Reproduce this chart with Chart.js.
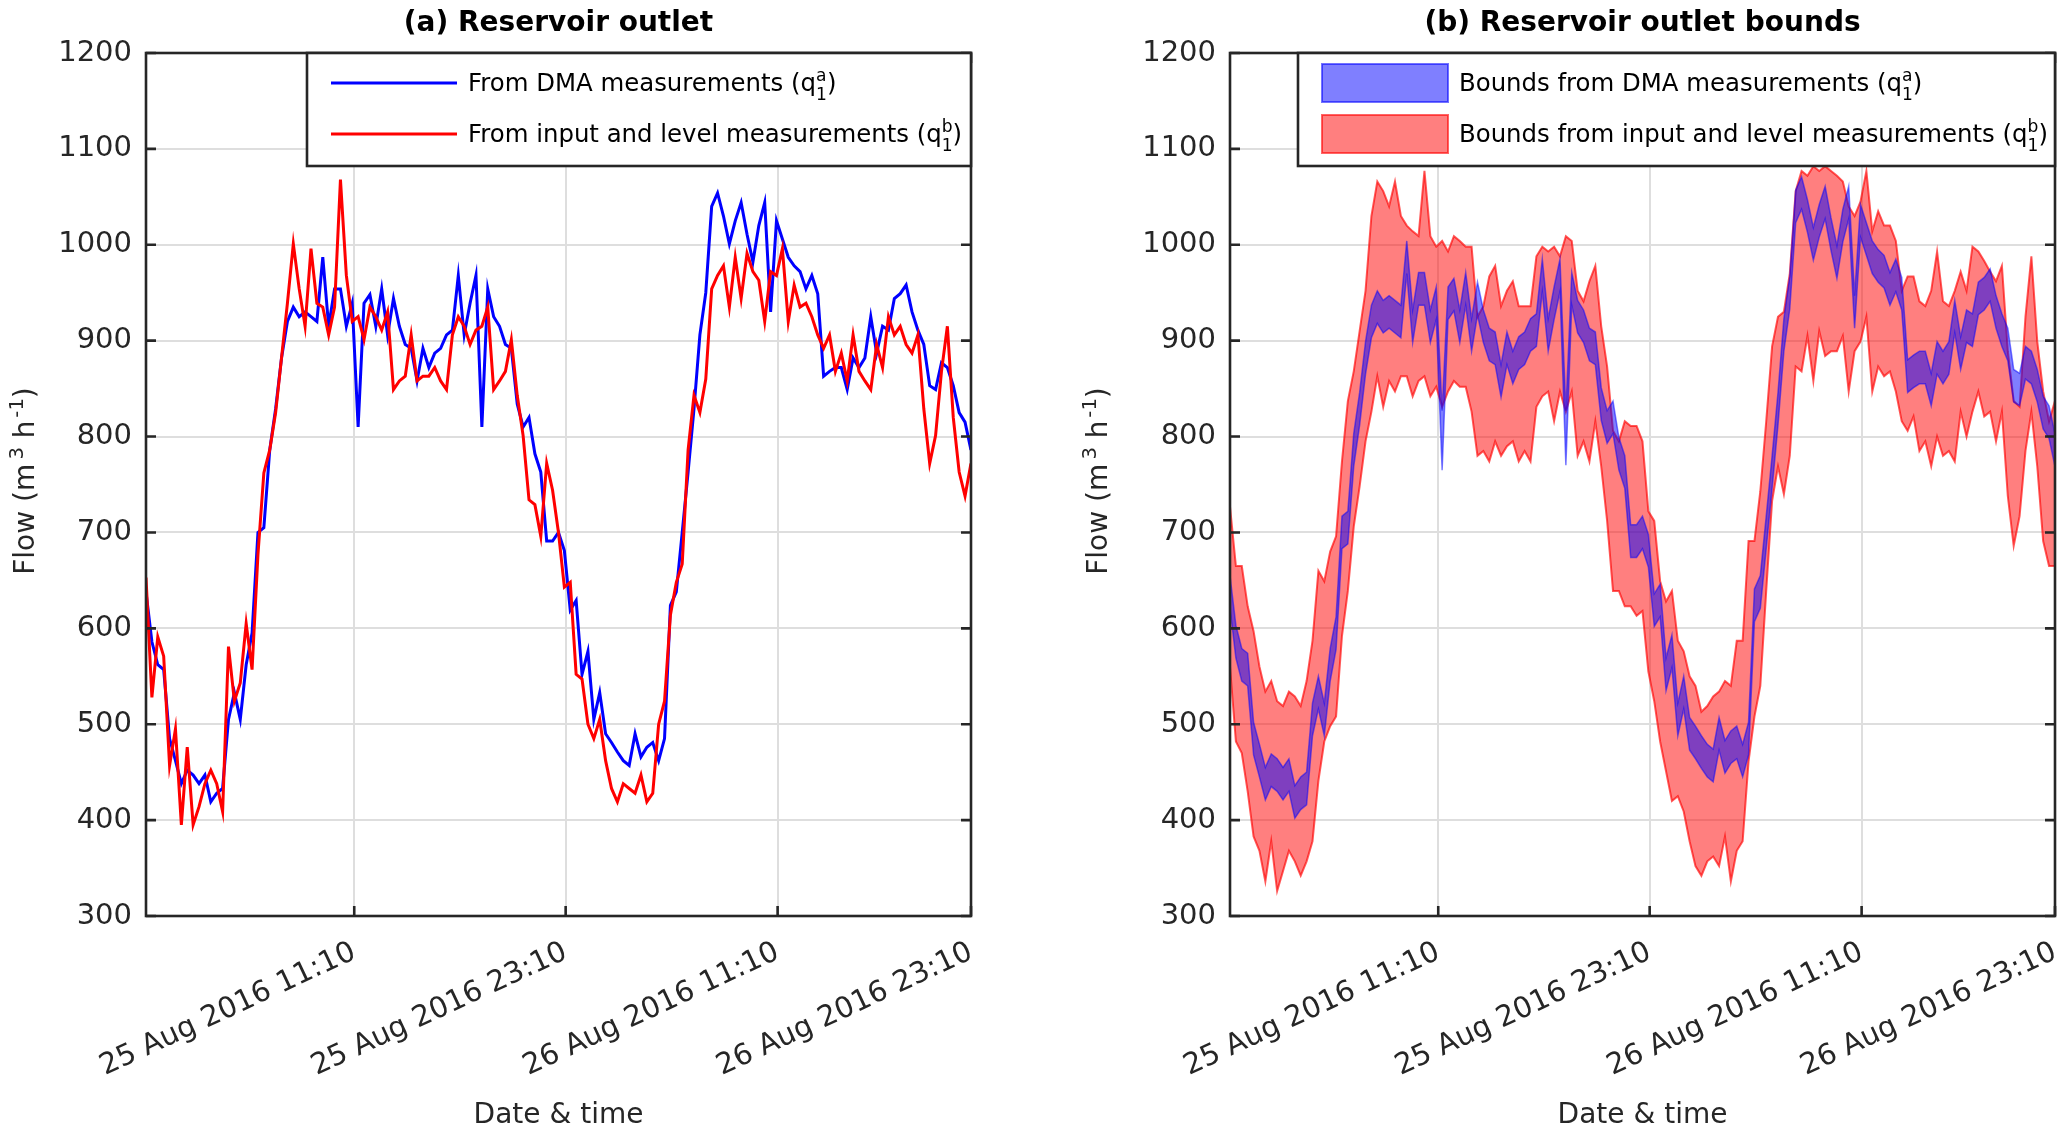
<!DOCTYPE html>
<html>
<head>
<meta charset="utf-8">
<script src="https://cdn.jsdelivr.net/npm/chart.js@4.4.1/dist/chart.umd.min.js"></script>
<style>
  html, body { margin: 0; padding: 0; background: #fff; }
  #wrap { display: flex; width: 2066px; height: 1135px; }
  .panel { position: relative; width: 1033px; height: 1135px; }
</style>
</head>
<body>
<div id="wrap">
  <div class="panel"><canvas id="chartA"></canvas></div>
  <div class="panel"><canvas id="chartB"></canvas></div>
</div>
<script>
// samples every 20 min, hours counted from the left edge of the axis
const stepHours = 1 / 3;
const tickHours = [11.78, 23.74, 35.73, 46.67];
const tickLabels = ["25 Aug 2016 11:10", "25 Aug 2016 23:10", "26 Aug 2016 11:10", "26 Aug 2016 23:10"];

// (a) flows, m3/h
const flowDMA = [
  638, 586, 562, 557, 485, 462, 438, 452, 447, 438,
  447, 419, 428, 433, 505, 533, 505, 562, 595, 700,
  705, 786, 829, 882, 920, 935, 925, 930, 925, 920,
  987, 915, 954, 954, 915, 939, 810, 939, 948, 915,
  954, 906, 944, 915, 896, 892, 858, 892, 872, 887,
  892, 906, 911, 968, 906, 939, 968, 810, 954, 925,
  915, 896, 892, 834, 810, 820, 782, 763, 691, 691,
  700, 681, 619, 629, 552, 576, 505, 533, 490, 481,
  471, 462, 457, 490, 466, 476, 481, 462, 485, 624,
  638, 700, 763, 829, 906, 950, 1040, 1054, 1030, 1001,
  1025, 1044, 1011, 982, 1020, 1044, 930, 1025, 1006, 987,
  978, 972, 954, 968, 949, 863, 868, 872, 872, 849,
  882, 872, 882, 925, 887, 915, 911, 944, 949, 958,
  930, 911, 896, 853, 849, 877, 872, 853, 825, 815,
  786
];
const flowLevel = [
  653, 528, 591, 571, 457, 495, 395, 476, 395, 414,
  438, 452, 438, 409, 581, 524, 543, 605, 557, 677,
  762, 786, 825, 882, 939, 1001, 954, 915, 996, 939,
  935, 906, 935, 1068, 968, 920, 925, 901, 935, 925,
  911, 930, 849, 858, 863, 906, 858, 863, 863, 872,
  858, 849, 906, 925, 915, 896, 911, 915, 935, 849,
  858, 868, 901, 843, 801, 734, 729, 696, 772, 744,
  700, 643, 648, 552, 547, 500, 485, 505, 462, 433,
  419, 438, 433, 428, 447, 419, 428, 500, 524, 614,
  648, 667, 786, 843, 825, 860, 954, 968, 978, 935,
  987, 944, 991, 972, 963, 920, 972, 968, 996, 920,
  958, 935, 939, 925, 906, 892, 906, 868, 887, 858,
  906, 868, 858, 849, 896, 872, 925, 906, 915, 896,
  887, 906, 829, 772, 801, 868, 915, 820, 763, 738,
  772
];

// (b) bounds, m3/h
const dmaLower = [
  621, 569, 545, 540, 468, 445, 421, 435, 430, 421,
  430, 402, 411, 416, 488, 516, 488, 545, 578, 683,
  688, 769, 812, 865, 903, 918, 908, 913, 908, 903,
  970, 898, 937, 937, 898, 922, 765, 922, 931, 898,
  937, 889, 927, 898, 879, 875, 841, 875, 855, 870,
  875, 889, 894, 951, 889, 922, 951, 770, 937, 908,
  898, 879, 875, 817, 793, 803, 765, 746, 674, 674,
  683, 664, 602, 612, 535, 559, 488, 516, 473, 464,
  454, 445, 440, 473, 449, 459, 464, 445, 468, 607,
  621, 683, 746, 812, 889, 933, 1023, 1037, 1013, 984,
  1008, 1027, 994, 965, 1003, 1027, 913, 1008, 989, 970,
  961, 955, 937, 951, 932, 846, 851, 855, 855, 832,
  865, 855, 865, 908, 870, 898, 894, 927, 932, 941,
  913, 894, 879, 836, 832, 860, 855, 836, 808, 798,
  769
];
const dmaUpper = [
  655, 603, 579, 574, 502, 479, 455, 469, 464, 455,
  464, 436, 445, 450, 522, 550, 522, 579, 612, 717,
  722, 803, 846, 899, 937, 952, 942, 947, 942, 937,
  1004, 932, 971, 971, 932, 956, 827, 956, 965, 932,
  971, 923, 961, 932, 913, 909, 875, 909, 889, 904,
  909, 923, 928, 985, 923, 956, 985, 827, 971, 942,
  932, 913, 909, 851, 827, 837, 799, 780, 708, 708,
  717, 698, 636, 646, 569, 593, 522, 550, 507, 498,
  488, 479, 474, 507, 483, 493, 498, 479, 502, 641,
  655, 717, 780, 846, 923, 967, 1057, 1071, 1047, 1018,
  1042, 1061, 1028, 999, 1037, 1061, 947, 1042, 1023, 1004,
  995, 989, 971, 985, 966, 880, 885, 889, 889, 866,
  899, 889, 899, 942, 904, 932, 928, 961, 966, 975,
  947, 928, 913, 870, 866, 894, 889, 870, 842, 832,
  803
];
const levelLower = [
  560, 482, 470, 430, 383, 368, 336, 378, 326, 347,
  368, 357, 342, 357, 378, 441, 482, 498, 508, 592,
  639, 706, 748, 795, 826, 863, 831, 858, 847, 863,
  863, 842, 858, 863, 842, 852, 831, 847, 858, 852,
  852, 826, 780, 785, 774, 795, 780, 790, 795, 774,
  785, 774, 831, 842, 847, 816, 847, 826, 847, 780,
  795, 774, 816, 769, 712, 639, 639, 623, 623, 613,
  618, 555, 524, 482, 451, 420, 425, 409, 378, 352,
  342, 357, 362, 352, 383, 336, 368, 378, 461, 508,
  540, 639, 733, 769, 740, 780, 873, 868, 905, 858,
  910, 884, 889, 889, 905, 847, 889, 899, 925, 847,
  873, 863, 868, 847, 816, 806, 821, 785, 795, 769,
  800, 780, 785, 774, 826, 800, 826, 847, 821, 826,
  795, 826, 738, 686, 717, 785, 826, 769, 691, 665,
  665
];
const levelUpper = [
  727, 665, 665, 623, 597, 560, 534, 545, 524, 519,
  534, 529, 519, 545, 587, 660, 649, 680, 696, 774,
  837, 868, 910, 952, 1030, 1066, 1056, 1040, 1066, 1030,
  1020, 1014, 1009, 1077, 1009, 998, 1004, 993, 1009, 1004,
  998, 998, 925, 936, 967, 978, 936, 952, 962, 936,
  936, 936, 988, 998, 993, 998, 988, 1009, 1004, 952,
  941, 962, 978, 915, 873, 806, 795, 816, 811, 811,
  795, 722, 712, 649, 628, 639, 587, 576, 550, 540,
  513, 519, 529, 534, 545, 540, 587, 587, 691, 691,
  743, 816, 894, 925, 930, 970, 1056, 1077, 1072, 1082,
  1077, 1082, 1077, 1072, 1066, 1040, 1030, 1045, 1077, 1014,
  1035, 1020, 1020, 1004, 952, 967, 967, 941, 936, 952,
  993, 941, 936, 952, 972, 952, 998, 993, 983, 972,
  962, 978, 889, 837, 831, 925, 988, 899, 847, 816,
  837
];

const FONT = "'DejaVu Sans', sans-serif";
const INK = "#262626";
Chart.defaults.font.family = FONT;

function toPoints(values) {
  return values.map((v, i) => ({ x: i * stepHours, y: v }));
}

// text with stacked super/subscripts, e.g. q with 1 below and a above
function drawRich(ctx, x, y, parts, size, draw) {
  let cx = x;
  for (const p of parts) {
    if (p.t !== undefined) {
      ctx.font = size + "px " + FONT;
      if (draw) ctx.fillText(p.t, cx, y);
      cx += ctx.measureText(p.t).width;
    } else {
      const s = size * 0.7;
      ctx.font = s + "px " + FONT;
      cx += (p.gap || 0) * size;
      let w = 0;
      if (p.sup) {
        if (draw) ctx.fillText(p.sup, cx, y - size * 0.4);
        w = Math.max(w, ctx.measureText(p.sup).width);
      }
      if (p.sub) {
        if (draw) ctx.fillText(p.sub, cx, y + size * 0.36);
        w = Math.max(w, ctx.measureText(p.sub).width);
      }
      cx += w;
    }
  }
  return cx - x;
}

const yTitleParts = [{ t: "Flow (m" }, { sup: "3", gap: 0.15 }, { t: " h" }, { sup: "-1", gap: 0.1 }, { t: ")" }];

function framePlugin(cfg) {
  return {
    id: "matlabFrame",
    afterDraw(chart) {
      const ctx = chart.ctx;
      const a = chart.chartArea;
      const xs = chart.scales.x;
      const ys = chart.scales.y;
      ctx.save();
      ctx.strokeStyle = INK;
      ctx.lineWidth = 2.6;
      // inward ticks
      ctx.beginPath();
      ys.ticks.forEach((t) => {
        const py = ys.getPixelForValue(t.value);
        ctx.moveTo(a.left, py); ctx.lineTo(a.left + 10, py);
        ctx.moveTo(a.right, py); ctx.lineTo(a.right - 10, py);
      });
      xs.ticks.forEach((t) => {
        const px = xs.getPixelForValue(t.value);
        ctx.moveTo(px, a.bottom); ctx.lineTo(px, a.bottom - 10);
        ctx.moveTo(px, a.top); ctx.lineTo(px, a.top + 10);
      });
      ctx.stroke();
      ctx.strokeRect(a.left, a.top, a.right - a.left, a.bottom - a.top);

      // legend
      const bx = cfg.legendLeft, by = a.top, bw = a.right - bx, bh = 113;
      ctx.fillStyle = "#fff";
      ctx.fillRect(bx, by, bw, bh);
      ctx.strokeRect(bx, by, bw, bh);
      cfg.items.forEach((it, i) => {
        const ry = by + 30 + i * 51;
        const sx = bx + 24;
        if (it.kind === "line") {
          ctx.strokeStyle = it.color;
          ctx.lineWidth = 2.8;
          ctx.beginPath();
          ctx.moveTo(sx, ry); ctx.lineTo(sx + 126, ry);
          ctx.stroke();
        } else {
          ctx.fillStyle = it.fill;
          ctx.fillRect(sx, ry - 19, 126, 38);
          ctx.strokeStyle = it.edge;
          ctx.lineWidth = 2;
          ctx.strokeRect(sx, ry - 19, 126, 38);
        }
        ctx.fillStyle = "#000";
        ctx.textBaseline = "alphabetic";
        ctx.textAlign = "left";
        drawRich(ctx, sx + 137, ry + 8, it.parts, 24.4, true);
      });

      // y axis title
      ctx.fillStyle = INK;
      ctx.translate(cfg.yTitleX, 481);
      ctx.rotate(-Math.PI / 2);
      const w = drawRich(ctx, 0, 0, yTitleParts, 28, false);
      drawRich(ctx, -w / 2, 10, yTitleParts, 28, true);
      ctx.restore();
    }
  };
}

function makeOptions(title, padLeft, padRight, yWidth) {
  return {
    responsive: true,
    maintainAspectRatio: false,
    animation: false,
    layout: { padding: { left: padLeft, right: padRight, top: 0, bottom: 0 } },
    elements: { point: { radius: 0 }, line: { tension: 0 } },
    plugins: {
      legend: { display: false },
      tooltip: { enabled: false },
      title: {
        display: true,
        text: title,
        fullSize: false,
        color: "#000",
        font: { size: 28, weight: "bold" },
        padding: { top: 7, bottom: 12.4 }
      }
    },
    scales: {
      x: {
        type: "linear",
        min: 0,
        max: tickHours[tickHours.length - 1],
        afterBuildTicks: (scale) => { scale.ticks = tickHours.map((v) => ({ value: v })); },
        afterFit: (scale) => {
          scale.height = 219;
          // the rotated labels may hang outside the plot; keep the plot box fixed
          scale.paddingLeft = 0;
          scale.paddingRight = 0;
        },
        ticks: {
          autoSkip: false,
          maxRotation: 25,
          minRotation: 25,
          padding: 19,
          color: INK,
          font: { size: 29 },
          callback: (v, i) => tickLabels[i]
        },
        grid: { color: "rgb(222,222,222)", lineWidth: 2, drawTicks: false },
        border: { display: false },
        title: {
          display: true,
          text: "Date & time",
          color: INK,
          font: { size: 28 },
          padding: { top: 0, bottom: 2 }
        }
      },
      y: {
        min: 300,
        max: 1200,
        afterFit: (scale) => { scale.width = yWidth; },
        ticks: { stepSize: 100, padding: 14, color: INK, font: { size: 29 }, callback: (v) => String(v) },
        grid: { color: "rgb(222,222,222)", lineWidth: 2, drawTicks: false },
        border: { display: false }
      }
    }
  };
}

const qa = [{ sup: "a", sub: "1" }];
const qb = [{ sup: "b", sub: "1" }];

new Chart(document.getElementById("chartA"), {
  type: "line",
  data: {
    datasets: [
      { label: "From DMA measurements", data: toPoints(flowDMA), borderColor: "#0000ff", borderWidth: 3, fill: false, order: 2 },
      { label: "From input and level measurements", data: toPoints(flowLevel), borderColor: "#ff0000", borderWidth: 3, fill: false, order: 1 }
    ]
  },
  options: makeOptions("(a) Reservoir outlet", 0, 62, 146),
  plugins: [framePlugin({
    legendLeft: 307,
    yTitleX: 24,
    items: [
      { kind: "line", color: "#0000ff", parts: [{ t: "From DMA measurements (q" }, ...qa, { t: ")" }] },
      { kind: "line", color: "#ff0000", parts: [{ t: "From input and level measurements (q" }, ...qb, { t: ")" }] }
    ]
  })]
});

new Chart(document.getElementById("chartB"), {
  type: "line",
  data: {
    datasets: [
      { label: "level lower", data: toPoints(levelLower), borderColor: "rgba(255,0,0,0.65)", borderWidth: 2, fill: false, order: 2 },
      { label: "level upper", data: toPoints(levelUpper), borderColor: "rgba(255,0,0,0.65)", borderWidth: 2, fill: "-1", backgroundColor: "rgba(255,0,0,0.5)", order: 2 },
      { label: "DMA lower", data: toPoints(dmaLower), borderColor: "rgba(0,0,255,0.5)", borderWidth: 1.5, fill: false, order: 1 },
      { label: "DMA upper", data: toPoints(dmaUpper), borderColor: "rgba(0,0,255,0.5)", borderWidth: 1.5, fill: "-1", backgroundColor: "rgba(0,0,255,0.5)", order: 1 }
    ]
  },
  options: makeOptions("(b) Reservoir outlet bounds", 51, 11, 146),
  plugins: [framePlugin({
    legendLeft: 265,
    yTitleX: 64,
    items: [
      { kind: "patch", fill: "rgba(0,0,255,0.5)", edge: "rgba(0,0,255,0.55)", parts: [{ t: "Bounds from DMA measurements (q" }, ...qa, { t: ")" }] },
      { kind: "patch", fill: "rgba(255,0,0,0.5)", edge: "rgba(255,0,0,0.6)", parts: [{ t: "Bounds from input and level measurements (q" }, ...qb, { t: ")" }] }
    ]
  })]
});
</script>
</body>
</html>
